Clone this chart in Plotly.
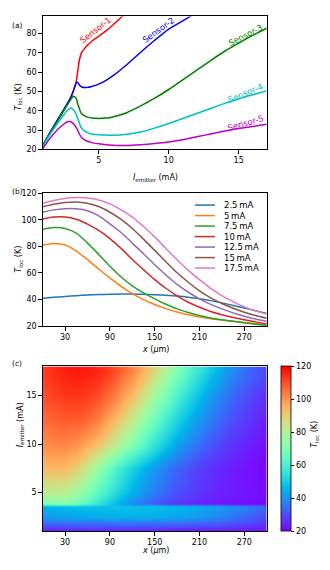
import plotly.graph_objects as go
import numpy as np

# ---- panel (a): local temperature of each sensor vs emitter current ----
I_emitter = [1.0, 1.5, 2.0, 2.5, 2.8, 3.0, 3.2, 3.4, 3.5, 3.6, 3.7, 3.8, 4.0, 4.2, 4.5,
             5.0, 5.5, 6.0, 7.0, 8.0, 9.0, 10.0, 11.0, 12.0, 13.0, 14.0, 15.0, 16.0, 17.0]
sensor_1 = [21.5, 28.3, 34.3, 40.2, 43.8, 46.5, 50.3, 55.5, 60.2, 65.5, 68.5, 70.3, 72.3, 73.9, 76.0,
            78.6, 81.2, 84.3, 91.0, None, None, None, None, None, None, None, None, None, None]
sensor_2 = [22.0, 28.6, 34.6, 40.6, 44.3, 47.0, 50.5, 54.5, 54.7, 53.6, 52.7, 52.3, 52.0, 52.1, 52.6,
            53.8, 55.6, 58.0, 63.8, 70.3, 76.5, 82.3, 86.5, 91.0, None, None, None, None, None]
sensor_3 = [22.0, 28.3, 34.0, 40.0, 43.5, 45.8, 47.5, 46.3, 43.5, 41.5, 39.5, 38.3, 37.3, 36.7, 36.2,
            36.0, 36.2, 36.8, 39.0, 42.5, 46.5, 51.0, 56.0, 61.0, 66.0, 70.8, 75.0, 79.0, 82.7]
sensor_4 = [21.5, 27.5, 32.8, 37.8, 40.5, 41.4, 40.5, 38.0, 36.3, 34.0, 32.0, 30.8, 29.5, 28.7, 28.0,
            27.6, 27.4, 27.3, 27.8, 29.0, 31.0, 33.4, 36.0, 38.6, 41.2, 43.8, 46.2, 48.3, 50.3]
sensor_5 = [20.3, 25.5, 29.8, 33.0, 34.4, 34.3, 33.3, 31.3, 29.8, 28.3, 27.0, 26.0, 24.9, 24.2, 23.5,
            22.9, 22.4, 22.1, 22.0, 22.4, 23.0, 23.8, 25.0, 26.5, 28.0, 29.5, 30.8, 31.9, 33.0]
sensor_names = ["Sensor-1", "Sensor-2", "Sensor-3", "Sensor-4", "Sensor-5"]
sensor_colors = ["#ff0000", "#0000ff", "#008000", "#00bfbf", "#bf00bf"]

# ---- panel (b): temperature profile along x for several currents ----
x_pos = [0, 15, 30, 45, 60, 75, 90, 105, 120, 135, 150, 165, 180, 195, 210, 225, 240, 255, 270, 285, 300]
T_2p5 = [41.0, 41.7, 42.3, 42.9, 43.4, 43.8, 44.0, 44.1, 44.1, 44.0, 43.7, 43.3, 42.7, 41.8, 40.6,
         39.2, 37.5, 35.6, 33.6, 31.6, 29.5]
T_5 = [81.0, 82.2, 81.0, 76.5, 70.0, 63.0, 56.3, 50.0, 44.5, 40.0, 36.3, 33.2, 30.6, 28.5, 26.8,
       25.5, 24.5, 23.6, 22.8, 22.0, 21.2]
T_7p5 = [92.8, 94.2, 93.5, 90.0, 82.5, 74.0, 65.0, 57.0, 50.3, 45.0, 40.5, 36.5, 33.0, 30.3, 28.0,
         26.2, 24.8, 23.6, 22.5, 21.5, 20.5]
T_10 = [100.7, 102.2, 102.2, 100.5, 96.8, 92.0, 85.9, 78.5, 70.2, 62.5, 55.0, 48.5, 42.8, 38.0, 34.2,
        31.0, 28.5, 26.5, 24.8, 23.2, 21.7]
T_12p5 = [105.7, 107.5, 108.4, 108.3, 106.8, 103.0, 97.0, 90.5, 82.5, 74.5, 66.2, 58.5, 51.4, 45.5, 40.5,
          36.4, 33.0, 30.0, 27.5, 25.4, 23.7]
T_15 = [109.9, 111.8, 113.0, 113.4, 112.5, 110.0, 105.7, 100.3, 93.5, 85.5, 77.0, 68.5, 60.2, 53.0, 46.6,
        41.3, 37.0, 33.4, 30.5, 28.0, 25.9]
T_17p5 = [112.5, 114.5, 116.0, 116.8, 116.5, 115.0, 112.0, 107.5, 102.0, 95.0, 87.2, 78.5, 70.0, 62.0, 55.0,
          48.5, 43.0, 38.5, 34.5, 31.5, 29.1]
profile_labels = ["2.5\u2009mA", "5\u2009mA", "7.5\u2009mA", "10\u2009mA", "12.5\u2009mA", "15\u2009mA", "17.5\u2009mA"]
profile_colors = ["#1f77b4", "#ff7f0e", "#2ca02c", "#d62728", "#9467bd", "#8c564b", "#e377c2"]

# ---- panel (c): map T(x, I) ----
map_I = [1.0, 1.5, 2.0, 2.5, 3.0, 3.6, 3.85, 5.0, 7.5, 10.0, 12.5, 15.0, 17.5]
T_1p0 = [22.5, 22.6, 22.7, 22.8, 22.8, 22.8, 22.8, 22.8, 22.8, 22.8, 22.7, 22.7, 22.6, 22.5, 22.4,
         22.3, 22.2, 22.1, 22.0, 21.8, 21.6]
T_1p5 = [29.0, 29.3, 29.6, 29.8, 30.0, 30.1, 30.2, 30.2, 30.2, 30.1, 30.0, 29.8, 29.5, 29.2, 28.8,
         28.3, 27.8, 27.2, 26.5, 25.8, 25.0]
T_2p0 = [35.5, 36.0, 36.5, 36.9, 37.2, 37.4, 37.6, 37.7, 37.7, 37.6, 37.4, 37.1, 36.7, 36.1, 35.4,
         34.5, 33.5, 32.3, 31.0, 29.6, 28.2]
T_3p0 = [42.5, 43.4, 44.2, 44.8, 45.3, 45.6, 45.8, 45.9, 45.9, 45.8, 45.5, 45.1, 44.5, 43.6, 42.4,
         41.0, 39.3, 37.4, 35.3, 33.2, 31.0]
T_3p6 = [45.0, 45.8, 46.5, 47.0, 47.3, 47.5, 47.6, 47.6, 47.5, 47.3, 47.0, 46.5, 45.9, 45.0, 43.9,
         42.6, 41.0, 39.3, 37.4, 35.4, 33.3]
T_3p85 = [70.0, 71.5, 71.0, 67.5, 62.0, 55.5, 49.0, 43.5, 39.0, 35.0, 31.8, 29.2, 27.2, 25.7, 24.5,
          23.6, 22.8, 22.2, 21.6, 21.1, 20.6]


def rainbow_scale(n=21):
    # matplotlib "rainbow" colormap
    scale = []
    for t in np.linspace(0, 1, n):
        r = min(1.0, abs(2 * t - 0.5))
        g = np.sin(np.pi * t)
        b = np.cos(np.pi * t / 2)
        scale.append([float(t), f"rgb({int(r*255)},{int(max(g,0)*255)},{int(max(b,0)*255)})"])
    return scale


W, H = 330, 570
FONT = "DejaVu Sans"
XD = [42.7 / W, 266.7 / W]


def py(v):
    return 1 - v / H


fig = go.Figure()

for name, ys, c in zip(sensor_names, [sensor_1, sensor_2, sensor_3, sensor_4, sensor_5], sensor_colors):
    fig.add_trace(go.Scatter(x=I_emitter, y=ys, mode="lines", name=name,
                             line=dict(color=c, width=1.5, shape="spline", smoothing=0.6),
                             xaxis="x", yaxis="y", showlegend=False))

profiles = [T_2p5, T_5, T_7p5, T_10, T_12p5, T_15, T_17p5]
for lab, ys, c in zip(profile_labels, profiles, profile_colors):
    fig.add_trace(go.Scatter(x=x_pos, y=ys, mode="lines", name=lab,
                             line=dict(color=c, width=1.5, shape="spline", smoothing=0.8),
                             xaxis="x2", yaxis="y2", showlegend=False))

z_map = [T_1p0, T_1p5, T_2p0, T_2p5, T_3p0, T_3p6, T_3p85, T_5, T_7p5, T_10, T_12p5, T_15, T_17p5]
fig.add_trace(go.Heatmap(
    x=x_pos, y=map_I, z=z_map, zsmooth="best", colorscale=rainbow_scale(),
    zmin=20, zmax=120, xaxis="x3", yaxis="y3",
    colorbar=dict(x=281 / W, xanchor="left", xpad=0, y=py(535.7), yanchor="bottom",
                  len=(535.7 - 368.3) / H, lenmode="fraction", ypad=0,
                  thickness=10, thicknessmode="pixels", outlinewidth=0.8, outlinecolor="black",
                  tickvals=[20, 40, 60, 80, 100, 120], ticks="outside", ticklen=3.5,
                  tickwidth=0.8, tickcolor="black", tickfont=dict(size=8, color="black", family=FONT)),
))

axis_common = dict(showgrid=False, zeroline=False, showline=True, linecolor="black", linewidth=0.8,
                   mirror=True, ticks="outside", ticklen=3.5, tickwidth=0.8, tickcolor="black",
                   tickfont=dict(size=8, color="black", family=FONT))

annotations = []
# panel labels
for lab, yy in [("(a)", 15), ("(b)", 184), ("(c)", 365)]:
    annotations.append(dict(text=lab, x=10 / W, y=py(yy), xref="paper", yref="paper", showarrow=False,
                            font=dict(size=7.5, color="black", family=FONT)))

# axis titles
T_title = "<i>T</i><sub>loc</sub> (K)"
I_title = "<i>I</i><sub>emitter</sub> (mA)"
X_title = "<i>x</i> (<i>\u03bc</i>m)"
for txt, xx, yy, ang in [(T_title, 13, 80.2, -90), (I_title, 155, 171, 0),
                         (T_title, 13, 259.8, -90), (X_title, 155, 351, 0),
                         (I_title, 15, 452, -90), (X_title, 155, 560.5, 0),
                         (T_title, 321.5, 452, -90)]:
    annotations.append(dict(text=txt, x=xx / W, y=py(yy), xref="paper", yref="paper", showarrow=False,
                            textangle=ang, borderpad=0, font=dict(size=8, color="black", family=FONT)))

# sensor labels in panel (a)
for name, c, lx, ly, ang in zip(sensor_names, sensor_colors,
                                [4.78, 9.27, 15.5, 15.5, 15.5],
                                [81.7, 81.7, 79.2, 49.1, 33.6],
                                [-38, -36, -27, -23, -16]):
    annotations.append(dict(text=name, x=lx, y=ly, xref="x", yref="y", showarrow=False,
                            textangle=ang, font=dict(size=8.5, color=c, family=FONT)))

# legend of panel (b), drawn by hand
shapes = []
for k, (lab, c) in enumerate(zip(profile_labels, profile_colors)):
    yy = py(204.3 + k * 10.67)
    shapes.append(dict(type="line", xref="paper", yref="paper", x0=195 / W, x1=215 / W, y0=yy, y1=yy,
                       line=dict(color=c, width=1.5)))
    annotations.append(dict(text=lab, x=221.5 / W, y=yy, xref="paper", yref="paper", showarrow=False,
                            xanchor="left", font=dict(size=8.5, color="black", family=FONT)))

fig.update_layout(
    width=W, height=H, margin=dict(l=0, r=0, t=0, b=0),
    paper_bgcolor="white", plot_bgcolor="white",
    font=dict(family=FONT, size=8, color="black"),
    xaxis=dict(domain=XD, anchor="y", range=[1, 17], tickvals=[5, 10, 15], **axis_common),
    yaxis=dict(domain=[py(147.7), py(12.7)], anchor="x", range=[20, 88.8],
               tickvals=[20, 30, 40, 50, 60, 70, 80], **axis_common),
    xaxis2=dict(domain=XD, anchor="y2", range=[0, 300], tickvals=[30, 90, 150, 210, 270], **axis_common),
    yaxis2=dict(domain=[py(327.3), py(192.3)], anchor="x2", range=[20, 120],
                tickvals=[20, 40, 60, 80, 100, 120], **axis_common),
    xaxis3=dict(domain=XD, anchor="y3", range=[0, 300], tickvals=[30, 90, 150, 210, 270], **axis_common),
    yaxis3=dict(domain=[py(535.7), py(368.3)], anchor="x3", range=[1, 18],
                tickvals=[5, 10, 15], **axis_common),
    annotations=annotations, shapes=shapes,
)

# drop the default 8px page margin so the 330x570 figure fills the window exactly
fig.write_html("out.html", post_script="document.body.style.margin='0';",
               config={"displayModeBar": False})
